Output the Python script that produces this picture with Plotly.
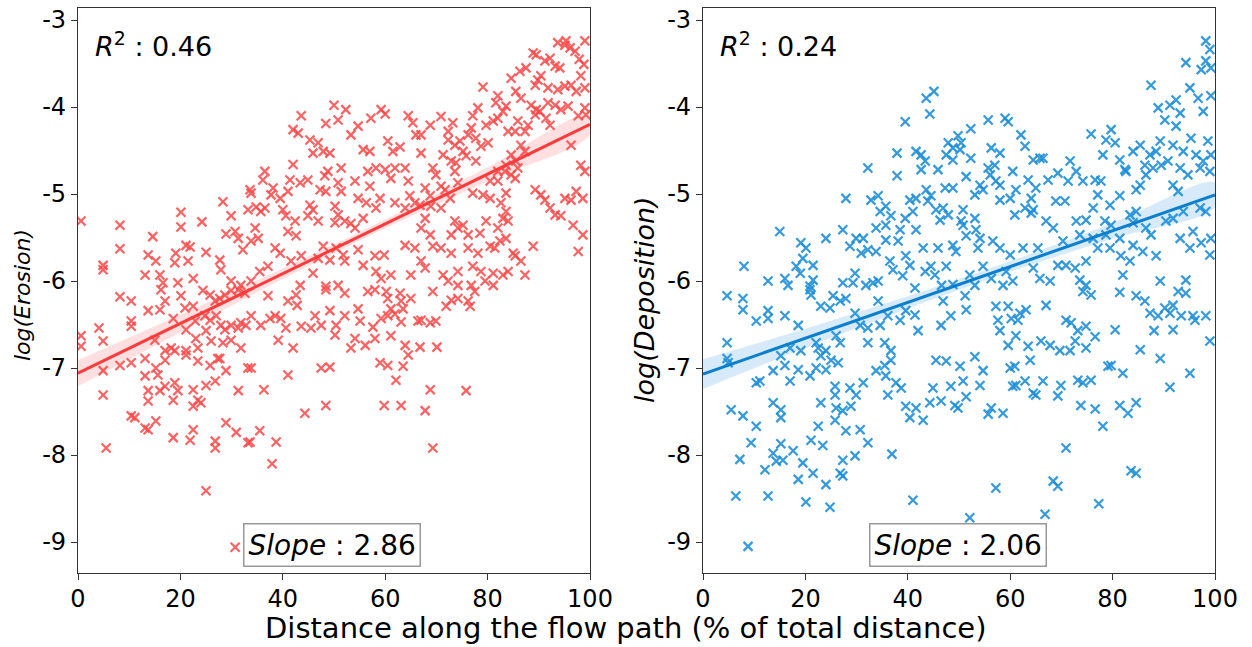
import numpy as np
import plotly.graph_objects as go

# ---------------- data ----------------
erosion_points = [
 (0.6,-5.31),(8.2,-5.36),(8.2,-5.63),(4.9,-5.82),(4.9,-5.87),(14.6,-5.49),(13.7,-5.70),(15.2,-5.77),(13.1,-5.93),(16.0,-5.93),
 (20.1,-5.21),(20.1,-5.38),(24.2,-5.32),(28.3,-5.09),(29.9,-5.25),(28.9,-5.46),(30.7,-5.43),(31.3,-5.51),(21.1,-5.59),(21.9,-5.61),
 (19.1,-5.68),(18.9,-5.79),(21.5,-5.77),(25.0,-5.67),(27.7,-5.76),(27.9,-5.87),(32.2,-5.64),(33.2,-5.18),(33.6,-4.95),(22.5,-5.97),
 (19.5,-6.02),(16.6,-6.02),(29.9,-6.00),(31.8,-6.05),
 (50.0,-3.98),(52.3,-4.03),(43.6,-4.10),(48.4,-4.19),(50.8,-4.15),(53.3,-4.32),(54.7,-4.22),(57.2,-4.13),(59.2,-4.03),(60.0,-4.08),
 (64.5,-4.10),(65.4,-4.18),(66.0,-4.32),(42.0,-4.26),(43.0,-4.30),(45.3,-4.38),(46.9,-4.41),(45.9,-4.53),(47.9,-4.51),(49.2,-4.53),
 (55.7,-4.49),(57.0,-4.51),(60.5,-4.39),(61.5,-4.51),(62.9,-4.46),(42.0,-4.66),(36.5,-4.74),(36.1,-4.84),(41.4,-4.84),(43.4,-4.87),
 (44.9,-4.84),(48.8,-4.74),(48.2,-4.79),(51.4,-4.70),(50.8,-4.87),(51.4,-4.97),(47.3,-4.95),(48.4,-4.97),(54.1,-4.85),(56.6,-4.74),
 (58.2,-4.70),(60.0,-4.72),(57.0,-4.91),(61.9,-4.70),(63.9,-4.70),(61.1,-4.82),(64.5,-4.85),(33.8,-4.99),(38.1,-4.93),(37.7,-5.01),
 (41.0,-4.97),(39.5,-5.05),(34.8,-5.15),(36.5,-5.16),(35.7,-5.20),(40.0,-5.18),(40.6,-5.25),(42.4,-5.31),(45.3,-5.13),(45.9,-5.18),
 (44.9,-5.25),(54.7,-5.05),(56.3,-5.10),(58.2,-5.16),(59.0,-5.05),(50.2,-5.14),(50.8,-5.24),(61.9,-5.10),(63.9,-5.16),(64.8,-5.02),
 (65.8,-5.10),(50.2,-5.33),(52.1,-5.31),(53.3,-5.34),(54.1,-5.39),(55.7,-5.28),(46.9,-5.31),(41.0,-5.43),(42.6,-5.48),(34.6,-5.39),
 (35.2,-5.51),(33.8,-5.54),(38.5,-5.62),(39.5,-5.68),(41.6,-5.77),(43.6,-5.71),(47.9,-5.60),(50.4,-5.62),(51.8,-5.70),(54.7,-5.64),
 (46.9,-5.74),(49.2,-5.76),(52.1,-5.77),(55.7,-5.82),(58.0,-5.71),(59.8,-5.70),(58.2,-5.89),(59.2,-5.97),(61.1,-5.93),(63.9,-5.59),
 (65.8,-5.62),(65.0,-5.93),(45.9,-5.91),(35.5,-5.89),(37.1,-5.83),(33.8,-6.00),(48.4,-6.06),(50.8,-6.05),(43.4,-6.05),
 (93.7,-3.26),(95.1,-3.29),(96.1,-3.32),(95.3,-3.24),(99.0,-3.24),(97.1,-3.36),(88.9,-3.38),(89.5,-3.40),(91.2,-3.47),(92.2,-3.44),
 (93.2,-3.53),(94.1,-3.55),(97.9,-3.45),(98.8,-3.51),(87.5,-3.55),(86.3,-3.59),(84.6,-3.67),(89.8,-3.69),(90.4,-3.64),(89.3,-3.75),
 (91.8,-3.78),(93.7,-3.80),(95.1,-3.76),(96.3,-3.75),(97.3,-3.82),(98.2,-3.64),(99.0,-3.78),(79.1,-3.77),(82.0,-3.87),(81.6,-3.95),
 (85.5,-3.82),(86.5,-3.90),(83.6,-3.99),(83.0,-4.05),(88.5,-3.98),(89.5,-4.03),(89.3,-4.09),(90.2,-4.05),(91.8,-3.95),(93.2,-3.98),
 (91.4,-4.13),(92.2,-4.21),(94.3,-4.03),(95.7,-3.99),(97.7,-4.10),(99.0,-4.01),(99.2,-4.09),(78.1,-4.01),(77.1,-4.10),(79.7,-4.21),
 (81.1,-4.16),(82.0,-4.13),(85.9,-4.16),(87.3,-4.28),(87.9,-4.21),(85.4,-4.28),(84.0,-4.28),(68.8,-4.21),(70.9,-4.11),(73.2,-4.18),
 (72.3,-4.28),(72.3,-4.38),(73.6,-4.44),(67.0,-4.32),(67.0,-4.53),(74.6,-4.39),(76.2,-4.32),(76.8,-4.24),(77.7,-4.36),(78.7,-4.45),
 (80.1,-4.41),(75.2,-4.51),(71.3,-4.55),(72.9,-4.62),(73.8,-4.64),(75.8,-4.56),(77.7,-4.62),(86.5,-4.44),(87.3,-4.51),(84.6,-4.55),
 (85.5,-4.62),(83.6,-4.67),(69.3,-4.70),(69.9,-4.78),(73.6,-4.74),(82.0,-4.74),(83.4,-4.74),(84.6,-4.78),(85.9,-4.70),(85.4,-4.82),
 (82.0,-4.85),(80.5,-4.85),(96.3,-4.44),(98.2,-4.67),(99.0,-4.74),(67.8,-4.93),(68.8,-5.02),(70.9,-4.91),(71.7,-4.95),(74.2,-4.87),
 (72.7,-5.05),(77.1,-4.99),(79.1,-5.01),(80.5,-5.05),(83.6,-4.99),(89.3,-4.95),(90.4,-5.01),(91.2,-5.07),(95.1,-5.05),(96.3,-5.07),
 (97.3,-4.97),(98.6,-5.05),(66.8,-5.13),(68.9,-5.14),(70.9,-5.16),(67.8,-5.28),(67.0,-5.39),(68.8,-5.47),(82.6,-5.10),(83.6,-5.20),
 (83.0,-5.28),(82.0,-5.39),(84.0,-5.31),(92.2,-5.16),(93.2,-5.24),(94.3,-5.25),(79.7,-5.31),(96.7,-5.36),(98.6,-5.47),(97.7,-5.66),
 (88.9,-5.60),(85.0,-5.68),(85.4,-5.71),(73.6,-5.31),(74.2,-5.39),(75.2,-5.36),(72.9,-5.47),(76.2,-5.47),(78.5,-5.45),(69.3,-5.60),
 (70.9,-5.62),(72.9,-5.68),(76.2,-5.62),(78.1,-5.68),(80.5,-5.60),(81.4,-5.62),(82.4,-5.54),(83.6,-5.51),(67.0,-5.77),(67.8,-5.85),
 (71.3,-5.93),(74.2,-5.89),(77.1,-5.83),(78.7,-5.89),(81.1,-5.91),(83.0,-5.93),(84.0,-5.89),(86.5,-5.77),(87.3,-5.93),(72.3,-6.00),
 (74.2,-6.05),(76.8,-6.05),(79.5,-6.00),(81.1,-6.05),
 (69.3,-6.12),(71.9,-6.29),(72.9,-6.22),(74.2,-6.20),(76.2,-6.23),(76.6,-6.29),(77.5,-6.12),(67.0,-6.45),(68.8,-6.48),(69.9,-6.46),
 (66.8,-6.76),(70.1,-6.76),(68.8,-7.25),(75.8,-7.26),(67.8,-7.49),(69.3,-7.92),
 (37.1,-6.17),(41.0,-6.23),(42.6,-6.16),(42.8,-6.28),(48.4,-6.10),(52.1,-6.14),(56.6,-6.12),(58.0,-6.10),(60.2,-6.12),(60.5,-6.20),
 (62.9,-6.14),(63.1,-6.23),(65.0,-6.20),(33.8,-6.40),(35.7,-6.51),(37.5,-6.43),(38.5,-6.40),(39.6,-6.43),(40.6,-6.54),(43.6,-6.52),
 (45.5,-6.54),(46.3,-6.40),(47.5,-6.51),(49.2,-6.34),(50.4,-6.51),(52.1,-6.40),(54.7,-6.32),(55.1,-6.46),(57.6,-6.53),(59.2,-6.43),
 (60.5,-6.40),(61.1,-6.32),(61.9,-6.38),(63.5,-6.32),(63.1,-6.47),(66.4,-6.46),(39.1,-6.68),(42.0,-6.77),(50.2,-6.62),(53.3,-6.77),
 (54.1,-6.66),(56.1,-6.74),(58.0,-6.66),(61.1,-6.63),(63.9,-6.74),(64.5,-6.85),(33.8,-7.00),(41.0,-7.08),(47.5,-7.00),(49.2,-6.99),
 (59.0,-6.94),(60.5,-6.97),(63.5,-6.98),(62.1,-7.14),(36.3,-7.25),(44.3,-7.52),(48.4,-7.43),(59.8,-7.43),(63.1,-7.43),(35.5,-7.72),
 (33.6,-7.85),(38.7,-7.85),(37.9,-8.10),
 (8.2,-6.18),(10.4,-6.23),(13.7,-6.34),(16.0,-6.33),(17.0,-6.23),(16.2,-6.10),(20.1,-6.17),(20.9,-6.31),(22.5,-6.29),(24.4,-6.11),
 (25.8,-6.16),(26.8,-6.23),(27.7,-6.20),(28.7,-6.16),(29.9,-6.11),(31.3,-6.10),(32.6,-6.14),(0.6,-6.63),(0.6,-6.75),(4.1,-6.54),
 (4.9,-6.69),(10.4,-6.46),(10.4,-6.52),(18.6,-6.43),(21.1,-6.56),(22.9,-6.46),(24.8,-6.40),(25.8,-6.45),(27.0,-6.40),(27.9,-6.51),
 (28.7,-6.56),(29.9,-6.51),(31.3,-6.54),(31.8,-6.48),(32.8,-6.51),(15.0,-6.68),(17.0,-6.80),(18.2,-6.77),(21.1,-6.80),(23.0,-6.66),
 (23.4,-6.77),(25.0,-6.57),(26.0,-6.69),(27.3,-6.89),(28.3,-6.71),(29.9,-6.68),(31.8,-6.77),(4.9,-7.03),(8.2,-6.97),(10.4,-6.94),
 (13.1,-6.89),(13.1,-7.09),(15.2,-7.00),(15.6,-7.08),(17.0,-6.91),(18.9,-6.80),(21.1,-6.85),(23.4,-6.92),(25.8,-6.97),(27.7,-6.89),
 (28.9,-7.03),(33.2,-7.00),(13.7,-7.26),(13.7,-7.38),(16.0,-7.26),(17.0,-7.21),(18.9,-7.17),(19.5,-7.26),(18.6,-7.37),(22.5,-7.25),
 (23.4,-7.37),(24.0,-7.40),(22.5,-7.44),(25.0,-7.20),(26.8,-7.15),(31.3,-7.26),(4.9,-7.31),(10.4,-7.55),(11.1,-7.57),(13.1,-7.69),
 (13.7,-7.71),(15.2,-7.61),(18.6,-7.80),(21.9,-7.83),(22.5,-7.71),(26.8,-7.84),(26.8,-7.92),(28.9,-7.63),(30.9,-7.74),(33.2,-7.86),
 (5.5,-7.92),(25.0,-8.41),(30.7,-9.06),
]

deposition_points = [
 (32.2,-4.70),(27.9,-5.05),(32.8,-5.07),(15.0,-5.43),(27.3,-5.41),(24.0,-5.51),(19.1,-5.56),(20.1,-5.62),(29.9,-5.51),(31.3,-5.51),
 (28.7,-5.60),(30.9,-5.68),(32.2,-5.64),(8.0,-5.83),(19.5,-5.74),(18.2,-5.83),(21.5,-5.82),(19.0,-5.91),(12.7,-6.00),(16.0,-5.97),
 (16.6,-6.05),(21.5,-5.99),(20.9,-6.06),(29.7,-5.91),(27.3,-6.02),(29.3,-6.02),(31.8,-6.05),(33.2,-6.02),
 (45.1,-3.82),(43.6,-3.90),(44.3,-4.08),(39.5,-4.17),(55.7,-4.15),(59.0,-4.13),(59.6,-4.17),(52.3,-4.25),(62.1,-4.32),(62.9,-4.45),
 (49.8,-4.33),(47.9,-4.41),(50.4,-4.41),(48.8,-4.47),(50.2,-4.49),(47.5,-4.55),(41.6,-4.51),(42.6,-4.55),(43.4,-4.62),(37.9,-4.53),
 (48.8,-4.61),(52.3,-4.59),(56.3,-4.47),(58.0,-4.53),(42.6,-4.72),(45.9,-4.72),(37.9,-4.79),(55.7,-4.70),(57.0,-4.67),(56.1,-4.78),
 (57.2,-4.85),(58.0,-4.90),(60.5,-4.74),(63.5,-4.84),(64.5,-4.61),(65.8,-4.59),(65.0,-4.93),(51.4,-4.80),(54.1,-4.90),(54.7,-4.95),
 (43.6,-4.95),(47.3,-4.93),(48.8,-4.93),(53.1,-5.01),(61.1,-4.95),(58.0,-5.07),(60.0,-5.05),(34.2,-5.02),(35.7,-5.14),(40.4,-5.07),
 (41.6,-5.05),(44.5,-5.02),(43.9,-5.08),(64.1,-5.05),(64.5,-5.18),(45.5,-5.18),(46.9,-5.16),(47.9,-5.24),(46.3,-5.30),(50.8,-5.18),
 (50.4,-5.31),(53.1,-5.28),(60.9,-5.24),(62.9,-5.16),(64.1,-5.22),(34.6,-5.20),(36.7,-5.25),(35.7,-5.36),(39.5,-5.28),(41.0,-5.20),
 (33.8,-5.39),(38.5,-5.41),(41.6,-5.41),(50.8,-5.36),(51.4,-5.48),(53.3,-5.41),(54.1,-5.51),(35.7,-5.53),(38.1,-5.54),(33.8,-5.66),
 (36.5,-5.77),(39.6,-5.71),(40.4,-5.82),(43.0,-5.62),(45.9,-5.62),(48.8,-5.59),(49.4,-5.66),(53.7,-5.62),(56.6,-5.54),(58.0,-5.62),
 (60.0,-5.70),(62.5,-5.62),(65.4,-5.62),(37.1,-5.87),(39.0,-5.94),(43.4,-5.89),(44.5,-5.83),(45.3,-5.93),(47.5,-5.83),(52.1,-5.93),
 (54.7,-5.83),(56.3,-5.97),(59.2,-5.89),(60.5,-6.00),(64.5,-5.85),(65.8,-5.97),(34.2,-6.00),(41.4,-6.08),(46.6,-6.05),(48.8,-6.04),
 (53.1,-6.05),(58.6,-6.05),
 (98.2,-3.24),(99.0,-3.34),(94.3,-3.49),(98.2,-3.47),(97.3,-3.57),(99.2,-3.55),(87.5,-3.75),(95.1,-3.78),(96.7,-3.90),(88.9,-4.01),
 (91.2,-3.98),(92.4,-3.92),(93.2,-4.07),(90.2,-4.15),(97.7,-4.05),(99.2,-3.87),(75.8,-4.31),(79.7,-4.26),(78.7,-4.38),(80.5,-4.41),
 (78.1,-4.55),(81.4,-4.61),(82.4,-4.72),(82.6,-4.74),(66.4,-4.59),(71.7,-4.62),(72.9,-4.74),(69.3,-4.76),(67.4,-4.84),(71.3,-4.85),
 (74.2,-4.85),(76.6,-4.84),(77.7,-4.85),(84.0,-4.51),(85.4,-4.44),(87.3,-4.55),(88.5,-4.51),(89.3,-4.39),(86.3,-4.67),(87.9,-4.70),
 (89.5,-4.67),(90.8,-4.62),(86.5,-4.78),(85.4,-4.90),(84.6,-4.95),(92.4,-4.22),(91.8,-4.44),(93.8,-4.51),(95.3,-4.36),(96.3,-4.55),
 (97.7,-4.62),(99.2,-4.55),(98.6,-4.39),(93.2,-4.70),(94.7,-4.78),(97.1,-4.70),(99.0,-4.74),(91.8,-4.90),(92.8,-4.97),(68.9,-5.08),
 (70.7,-5.08),(76.2,-5.16),(77.1,-5.01),(79.5,-5.13),(81.4,-5.02),(67.0,-5.31),(68.4,-5.39),(70.3,-5.54),(72.9,-5.31),(74.8,-5.30),
 (73.6,-5.47),(76.2,-5.51),(78.5,-5.31),(79.7,-5.36),(78.7,-5.47),(81.4,-5.51),(83.4,-5.24),(84.6,-5.20),(84.0,-5.33),(86.5,-5.39),
 (87.5,-5.47),(90.4,-5.31),(91.8,-5.28),(93.8,-5.20),(95.7,-5.43),(97.1,-5.16),(98.2,-5.20),(93.2,-5.51),(95.1,-5.62),(97.3,-5.56),
 (99.2,-5.51),(99.0,-5.70),(69.3,-5.82),(70.9,-5.82),(72.7,-5.85),(74.8,-5.77),(77.1,-5.62),(79.5,-5.62),(81.6,-5.71),(83.4,-5.77),
 (84.0,-5.59),(85.9,-5.66),(88.5,-5.71),(67.8,-6.00),(73.6,-5.99),(74.8,-6.05),(82.0,-5.93),(89.3,-6.00),(94.3,-5.99),
 (4.7,-6.17),(7.8,-6.20),(7.8,-6.33),(10.4,-6.46),(12.7,-6.34),(12.7,-6.43),(16.0,-6.40),(18.6,-6.51),(20.9,-6.10),(21.1,-6.16),
 (23.0,-6.29),(24.8,-6.31),(25.4,-6.17),(26.8,-6.23),(27.9,-6.20),(29.7,-6.37),(30.7,-6.51),(32.2,-6.54),(4.7,-6.71),(4.7,-6.89),
 (4.9,-6.94),(15.2,-6.86),(17.0,-6.77),(19.1,-6.80),(22.1,-6.71),(22.5,-6.77),(23.0,-6.86),(24.0,-6.80),(25.0,-6.91),(26.0,-6.63),
 (26.8,-6.71),(26.4,-6.94),(32.2,-6.71),(13.7,-7.03),(16.0,-6.97),(17.0,-7.15),(18.6,-7.02),(20.9,-7.09),(22.1,-7.00),(24.0,-7.02),
 (10.4,-7.17),(11.1,-7.15),(25.8,-7.21),(25.8,-7.31),(28.7,-7.23),(29.9,-7.31),(31.3,-7.17),(5.5,-7.48),(7.8,-7.55),(10.4,-7.67),
 (13.7,-7.40),(15.2,-7.48),(15.2,-7.57),(23.0,-7.40),(26.0,-7.46),(27.3,-7.49),(28.9,-7.44),(25.8,-7.60),(22.5,-7.67),(27.9,-7.72),
 (30.7,-7.71),(32.2,-7.86),(9.4,-7.86),(7.2,-8.05),(12.1,-8.17),(13.7,-7.98),(15.2,-7.87),(14.3,-8.07),(15.6,-8.06),(17.6,-7.95),
 (19.5,-8.09),(21.1,-7.83),(23.4,-7.89),(18.6,-8.28),(21.5,-8.21),(26.8,-8.21),(27.3,-8.24),(29.7,-8.01),(27.3,-8.06),(24.0,-8.34),
 (6.4,-8.47),(12.7,-8.47),(20.1,-8.54),(24.8,-8.60),(8.8,-9.05),
 (34.2,-6.23),(34.6,-6.51),(36.1,-6.40),(35.5,-6.71),(36.7,-6.80),(33.8,-7.03),(35.5,-6.97),(35.7,-7.09),(36.7,-6.91),(38.5,-6.45),
 (39.6,-6.34),(41.4,-6.39),(42.0,-6.57),(46.9,-6.23),(46.5,-6.51),(48.4,-6.40),(51.2,-6.17),(51.4,-6.33),(57.2,-6.29),(57.6,-6.45),
 (58.0,-6.57),(59.6,-6.29),(60.2,-6.43),(61.9,-6.37),(63.1,-6.33),(61.5,-6.45),(61.1,-6.63),(59.6,-6.74),(63.5,-6.75),(63.9,-6.91),
 (66.0,-6.69),(45.5,-6.91),(47.5,-6.92),(50.2,-6.98),(53.1,-6.87),(54.7,-7.03),(54.1,-7.20),(50.8,-7.15),(48.4,-7.21),(51.4,-7.33),
 (37.7,-7.17),(38.7,-7.23),(36.1,-7.31),(44.9,-7.23),(44.3,-7.40),(46.5,-7.38),(49.2,-7.43),(49.8,-7.46),(39.6,-7.44),(41.6,-7.46),
 (40.4,-7.57),(43.0,-7.60),(56.3,-7.46),(55.7,-7.53),(58.6,-7.52),(60.0,-7.00),(60.9,-6.98),(60.5,-7.21),(61.1,-7.20),(62.9,-7.15),
 (64.5,-7.29),(65.0,-7.31),(36.9,-7.99),(41.0,-8.52),(57.2,-8.38),(52.1,-8.72),(66.8,-8.68),
 (67.0,-6.28),(74.2,-6.12),(75.8,-6.16),(81.4,-6.13),(84.6,-6.17),(86.3,-6.23),(87.3,-6.37),(88.9,-6.40),(90.2,-6.31),(91.2,-6.37),
 (91.8,-6.28),(92.8,-6.12),(94.3,-6.14),(93.4,-6.40),(95.7,-6.40),(96.1,-6.45),(98.2,-6.40),(88.1,-6.57),(91.8,-6.56),(80.5,-6.56),
 (99.0,-6.69),(70.9,-6.45),(71.9,-6.48),(73.2,-6.57),(74.8,-6.52),(76.6,-6.64),(72.7,-6.69),(67.8,-6.74),(69.7,-6.80),(71.7,-6.80),
 (74.8,-6.77),(85.4,-6.79),(89.3,-6.89),(79.1,-6.98),(79.7,-6.97),(82.0,-7.06),(95.1,-7.06),(91.2,-7.22),(66.4,-7.15),(69.9,-7.20),
 (69.3,-7.32),(73.2,-7.14),(74.2,-7.17),(75.8,-7.14),(73.8,-7.43),(76.6,-7.47),(81.4,-7.43),(83.0,-7.52),(84.6,-7.40),(78.1,-7.67),
 (70.9,-7.92),(68.4,-8.30),(69.3,-8.36),(83.6,-8.18),(84.6,-8.21),(77.3,-8.56),
]

# regression fits: value at x=0, value at x=100
ero_fit = (-7.06, -4.20)
dep_fit = (-7.07, -5.01)
band_x = [0, 20, 40, 60, 80, 100]
ero_band_half = [0.15, 0.10, 0.06, 0.05, 0.08, 0.12]
dep_band_half = [0.17, 0.11, 0.07, 0.06, 0.09, 0.14]

ero_r2, dep_r2 = "0.46", "0.24"
ero_slope, dep_slope = "2.86", "2.06"

y_ticks = [-3, -4, -5, -6, -7, -8, -9]
x_ticks = [0, 20, 40, 60, 80, 100]

# ---------------- figure ----------------
W, H = 1252, 647
RED_PT = "rgba(255,70,70,0.85)"
RED_LN = "#ff3b3b"
RED_BAND = "rgba(255,80,80,0.18)"
BLUE_PT = "rgba(25,140,215,0.88)"
BLUE_LN = "#0a7fd0"
BLUE_BAND = "rgba(30,140,220,0.18)"

fig = go.Figure()

def add_panel(points, fit, band_half, pt_col, ln_col, band_col, xa, ya):
    px_ = [p[0] for p in points]
    py_ = [p[1] for p in points]
    bx = np.array(band_x, dtype=float)
    fy = fit[0] + (fit[1] - fit[0]) * bx / 100.0
    hw = np.array(band_half)
    fig.add_trace(go.Scatter(
        x=np.concatenate([bx, bx[::-1]]),
        y=np.concatenate([fy + hw, (fy - hw)[::-1]]),
        fill="toself", fillcolor=band_col, line=dict(width=0, shape="spline"),
        mode="lines", hoverinfo="skip", showlegend=False, xaxis=xa, yaxis=ya))
    fig.add_trace(go.Scatter(
        x=px_, y=py_, mode="markers", showlegend=False, xaxis=xa, yaxis=ya,
        marker=dict(symbol="x-thin", size=9, line=dict(width=2.2, color=pt_col), color=pt_col)))
    fig.add_trace(go.Scatter(
        x=[0, 100], y=[fit[0], fit[1]], mode="lines", showlegend=False,
        line=dict(color=ln_col, width=3), xaxis=xa, yaxis=ya))

add_panel(erosion_points, ero_fit, ero_band_half, RED_PT, RED_LN, RED_BAND, "x", "y")
add_panel(deposition_points, dep_fit, dep_band_half, BLUE_PT, BLUE_LN, BLUE_BAND, "x2", "y2")

yrange = [-9.356, -2.862]
ydom = [1 - 573 / H, 1 - 8 / H]
axis_common = dict(showline=True, linecolor="#333", linewidth=1.2, mirror=True,
                   ticks="outside", ticklen=6, tickwidth=1.2, tickcolor="#333",
                   showgrid=False, zeroline=False, automargin=False,
                   tickfont=dict(family="DejaVu Sans", size=24, color="black"))

fig.update_layout(
    width=W, height=H, autosize=False,
    margin=dict(l=0, r=0, t=0, b=0, pad=0, autoexpand=False),
    showlegend=False,
    paper_bgcolor="white", plot_bgcolor="white",
    xaxis=dict(domain=[78 / W, 590 / W], range=[0, 100], tickvals=x_ticks, ticklabelstandoff=-2,
               ticktext=[str(v) for v in x_ticks], anchor="y", **axis_common),
    yaxis=dict(domain=ydom, range=yrange, tickvals=y_ticks,
               ticktext=[f"-{abs(v)}" for v in y_ticks], anchor="x", **axis_common),
    xaxis2=dict(domain=[703 / W, 1215 / W], range=[0, 100], tickvals=x_ticks, ticklabelstandoff=-2,
                ticktext=[str(v) for v in x_ticks], anchor="y2", **axis_common),
    yaxis2=dict(domain=ydom, range=yrange, tickvals=y_ticks,
                ticktext=[f"-{abs(v)}" for v in y_ticks], anchor="x2", **axis_common),
)

font = "DejaVu Sans"
ann = []
ann.append(dict(text=f"<i>R</i><sup>2</sup> : {ero_r2}", x=93 / W, y=1 - 44 / H, xref="paper", yref="paper",
                xanchor="left", yanchor="middle", showarrow=False, font=dict(family=font, size=27, color="black")))
ann.append(dict(text=f"<i>R</i><sup>2</sup> : {dep_r2}", x=718 / W, y=1 - 44 / H, xref="paper", yref="paper",
                xanchor="left", yanchor="middle", showarrow=False, font=dict(family=font, size=27, color="black")))
for cx, s in [(332, ero_slope), (958, dep_slope)]:
    ann.append(dict(text=f"<i>Slope</i> : {s}", x=cx / W, y=1 - 545 / H, xref="paper", yref="paper",
                    xanchor="center", yanchor="middle", showarrow=False,
                    bgcolor="white", bordercolor="#999", borderwidth=1.5, borderpad=4,
                    font=dict(family=font, size=28, color="black")))
ann.append(dict(text="<i>log(Erosion)</i>", x=22 / W, y=1 - 295 / H, xref="paper", yref="paper",
                textangle=-90, xanchor="center", yanchor="middle", showarrow=False,
                font=dict(family=font, size=22, color="black")))
ann.append(dict(text="<i>log(Deposition)</i>", x=645 / W, y=1 - 300 / H, xref="paper", yref="paper",
                textangle=-90, xanchor="center", yanchor="middle", showarrow=False,
                font=dict(family=font, size=27, color="black")))
ann.append(dict(text="Distance along the flow path (% of total distance)", x=626 / W, y=1 - 628 / H,
                xref="paper", yref="paper", xanchor="center", yanchor="middle", showarrow=False,
                font=dict(family=font, size=29, color="black")))
fig.update_layout(annotations=ann)

fig.write_html("out.html", config={"responsive": False})
